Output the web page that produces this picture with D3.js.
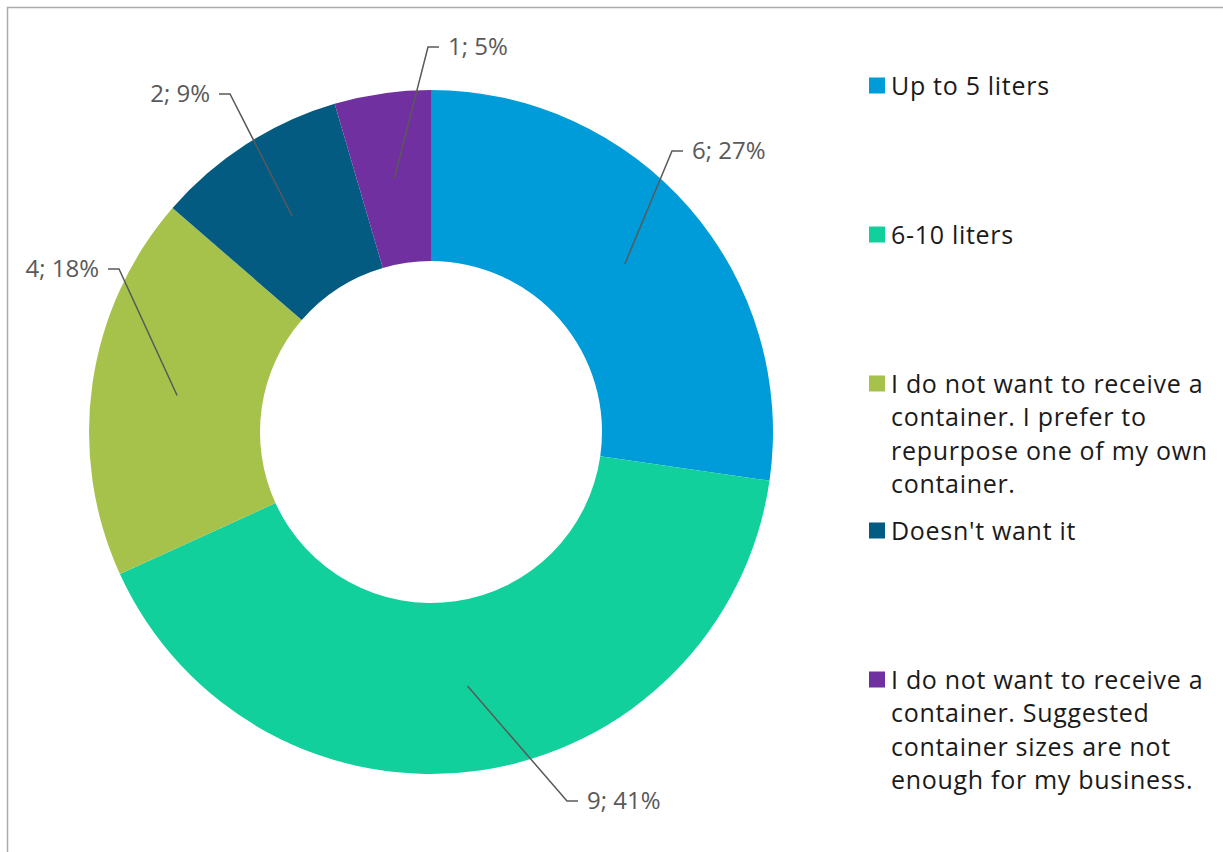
<!DOCTYPE html>
<html><head><meta charset="utf-8">
<script src="https://cdn.jsdelivr.net/npm/d3@7"></script>
<style>html,body{margin:0;padding:0;background:#fff;overflow:hidden}</style>
</head><body>
<svg id="chart" width="1223" height="852"></svg>
<script>
const categories = [
  "Up to 5 liters",
  "6-10 liters",
  "I do not want to receive a container. I prefer to repurpose one of my own container.",
  "Doesn't want it",
  "I do not want to receive a container. Suggested container sizes are not enough for my business."
];
const legendLines = [
  ["Up to 5 liters"],
  ["6-10 liters"],
  ["I do not want to receive a", "container. I prefer to", "repurpose one of my own", "container."],
  ["Doesn't want it"],
  ["I do not want to receive a", "container. Suggested", "container sizes are not", "enough for my business."]
];
const values = [6, 9, 4, 2, 1];
const colors = ["#009CD9", "#12D09B", "#A6C24A", "#045B81", "#7030A0"];

// layout (not data)
const cx = 431, cy = 432, rOuter = 342, rInner = 171;
const labelPos = [
  {x: 692, y: 151, anchor: "start"},
  {x: 587, y: 801, anchor: "start"},
  {x: 99,  y: 269, anchor: "end"},
  {x: 210, y: 94,  anchor: "end"},
  {x: 448, y: 47,  anchor: "start"}
];
const legendY = [85, 234, 383, 530, 679];
const legendLineH = 33.3;

const svg = d3.select("#chart");
svg.append("rect").attr("x", 7.5).attr("y", 7.5).attr("width", 1400).attr("height", 1000)
  .attr("fill", "none").attr("stroke", "#ABABAB").attr("stroke-width", 1.5);

const total = d3.sum(values);
const pie = d3.pie().sort(null).value(d => d)(values);
const arc = d3.arc().innerRadius(rInner).outerRadius(rOuter);
const g = svg.append("g").attr("transform", `translate(${cx},${cy})`);
g.selectAll("path").data(pie).join("path")
  .attr("d", arc).attr("fill", (d, i) => colors[i]);

// leader lines and labels
pie.forEach((d, i) => {
  const [px, py] = arc.centroid(d);
  const lp = labelPos[i];
  const dir = lp.anchor === "start" ? -1 : 1;
  const x1 = lp.x + dir * 9, x2 = lp.x + dir * 20;
  svg.append("polyline")
    .attr("points", `${cx + px},${cy + py} ${x2},${lp.y} ${x1},${lp.y}`)
    .attr("fill", "none").attr("stroke", "#595959").attr("stroke-width", 1.5);
  const pct = Math.round(values[i] / total * 100);
  svg.append("text").attr("x", lp.x).attr("y", lp.y - 2)
    .attr("text-anchor", lp.anchor).attr("dominant-baseline", "central")
    .attr("font-family", "'Open Sans', sans-serif").attr("font-size", 24)
    .attr("fill", "#595959").text(`${values[i]}; ${pct}%`);
});

// legend
const leg = svg.append("g");
legendLines.forEach((lines, i) => {
  leg.append("rect").attr("x", 869).attr("y", legendY[i] - 7.5).attr("width", 16).attr("height", 16)
    .attr("fill", colors[i]);
  lines.forEach((t, j) => {
    leg.append("text").attr("x", 891).attr("y", legendY[i] + j * legendLineH)
      .attr("dominant-baseline", "central")
      .attr("font-family", "'Open Sans', sans-serif").attr("font-size", 25)
      .attr("letter-spacing", 0.7)
      .attr("fill", "#1a1a1a").text(t);
  });
});
</script>
</body></html>
